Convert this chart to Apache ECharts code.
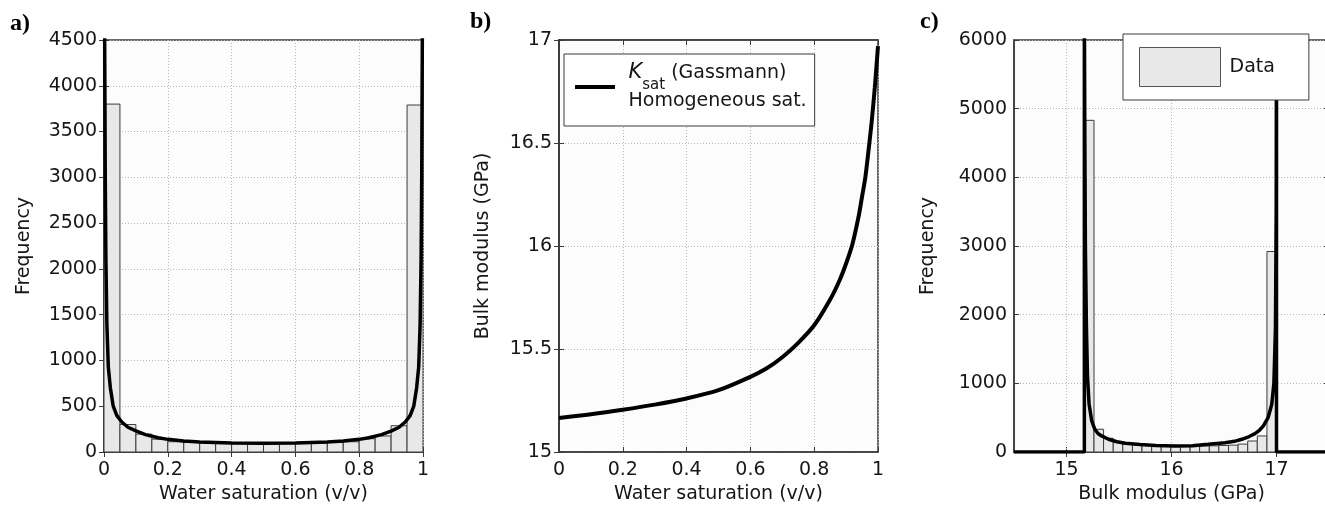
<!DOCTYPE html>
<html>
<head>
<meta charset="utf-8">
<script src="https://cdn.jsdelivr.net/npm/echarts@6/dist/echarts.min.js"></script>
<style>
html,body{margin:0;padding:0;background:#fff;}
#chart{width:1325px;height:506px;}
</style>
</head>
<body>
<div id="chart"></div>
<script>
// ---------- DATA ----------
// a) histogram of water saturation
const satEdges = [0, 0.05, 0.1, 0.15, 0.2, 0.25, 0.3, 0.35, 0.4, 0.45, 0.5, 0.55, 0.6, 0.65, 0.7, 0.75, 0.8, 0.85, 0.9, 0.95, 1.0];
const satCounts = [3800, 300, 195, 140, 112, 105, 100, 97, 95, 93, 93, 95, 97, 100, 105, 112, 145, 175, 287, 3790];
// a) fitted density curve (read from figure)
const satFitX = [0.002, 0.004, 0.006, 0.009, 0.0135, 0.02, 0.029, 0.04, 0.055, 0.075, 0.1, 0.13, 0.17, 0.2, 0.25, 0.3, 0.4, 0.5, 0.6, 0.7, 0.75, 0.8, 0.83, 0.87, 0.9, 0.925, 0.945, 0.96, 0.971, 0.98, 0.9865, 0.991, 0.994, 0.996, 0.998];
const satFitY = [4600, 3000, 2100, 1400, 930, 700, 500, 400, 330, 270, 230, 190, 155, 138, 120, 108, 98, 95, 98, 108, 120, 138, 155, 190, 228, 270, 330, 400, 500, 700, 930, 1400, 2100, 3000, 4600];
// b) Gassmann bulk modulus vs water saturation
const gassSw = [0, 0.1, 0.2, 0.3, 0.4, 0.5, 0.6, 0.65, 0.7, 0.75, 0.8, 0.85, 0.88, 0.9, 0.92, 0.94, 0.95, 0.96, 0.97, 0.98, 0.99, 1.0];
const gassK  = [15.165, 15.183, 15.205, 15.23, 15.26, 15.30, 15.365, 15.405, 15.46, 15.53, 15.615, 15.74, 15.835, 15.915, 16.01, 16.15, 16.24, 16.33, 16.46, 16.6, 16.77, 16.97];
// c) histogram of bulk modulus
const kEdges = [15.170, 15.262, 15.353, 15.445, 15.536, 15.628, 15.719, 15.811, 15.902, 15.994, 16.085, 16.177, 16.268, 16.360, 16.451, 16.543, 16.634, 16.726, 16.817, 16.909, 17.000];
const kCounts = [4830, 331, 200, 150, 120, 105, 98, 92, 88, 86, 85, 86, 88, 90, 95, 100, 115, 160, 234, 2920];
// c) fitted density curve (read from figure)
const kFitX = [14.5, 15.17, 15.17, 15.175, 15.18, 15.19, 15.2, 15.215, 15.24, 15.27, 15.3, 15.335, 15.4, 15.48, 15.56, 15.7, 15.85, 16.03, 16.2, 16.35, 16.51, 16.6, 16.67, 16.74, 16.795, 16.84, 16.875, 16.92, 16.955, 16.975, 16.99, 16.997, 17.0, 17.0, 17.5];
const kFitY = [0, 0, 6500, 4500, 3000, 1800, 1100, 700, 453, 331, 270, 234, 185, 150, 127, 110, 95, 88, 92, 112, 136, 155, 185, 225, 268, 320, 380, 500, 696, 1000, 1800, 3500, 6500, 0, 0];
// tick labels for c) x axis
const kTicks = [15, 16, 17];
// text
const panelLabels = ['a)', 'b)', 'c)'];

// ---------- CHART ----------
const FONT = 'DejaVu Sans';
const TXT = '#161616';
const FRAME = '#3a3a3a';

function hist(edges, counts) {
  return counts.map((c, i) => [edges[i], edges[i + 1], c]);
}
function pairs(xs, ys) { return xs.map((x, i) => [x, ys[i]]); }

const gridCommon = {show: true, backgroundColor: '#fcfcfc', borderColor: FRAME, borderWidth: 1.5,
  containLabel: false, outerBoundsMode: 'none'};
const grids = [
  Object.assign({left: 104, top: 40, width: 319, height: 412}, gridCommon),
  Object.assign({left: 559, top: 40, width: 319, height: 412}, gridCommon),
  Object.assign({left: 1014, top: 40, width: 315, height: 412}, gridCommon)
];

const tickStyle = {show: true, inside: true, length: 5, lineStyle: {color: FRAME, width: 1}};
const lineStyleAx = {show: true, lineStyle: {color: FRAME, width: 1.5}};
const splitStyle = {show: true, lineStyle: {color: '#b8b8b8', width: 1, type: [1, 2]}};
const labelStyle = {fontFamily: FONT, fontSize: 19, color: TXT};

function mainAxis(gi, pos, min, max, interval, name, nameGap, extra) {
  const isX = pos === 'bottom';
  return Object.assign({
    type: 'value', gridIndex: gi, position: pos, min: min, max: max, interval: interval,
    name: name, nameLocation: 'middle', nameGap: nameGap,
    nameTextStyle: {fontFamily: FONT, fontSize: 19, color: TXT},
    axisLine: lineStyleAx, axisTick: tickStyle, splitLine: splitStyle,
    axisLabel: Object.assign({margin: isX ? 9 : 7, formatter: v => String(+v.toFixed(4))}, labelStyle)
  }, extra || {});
}
function mirrorAxis(gi, pos, min, max, interval, extra) {
  return Object.assign({
    type: 'value', gridIndex: gi, position: pos, min: min, max: max, interval: interval,
    axisLine: lineStyleAx, axisTick: tickStyle, splitLine: {show: false},
    axisLabel: {show: false}
  }, extra || {});
}

const xAxes = [
  mainAxis(0, 'bottom', 0, 1, 0.2, 'Water saturation (v/v)', 33),
  mirrorAxis(0, 'top', 0, 1, 0.2),
  mainAxis(1, 'bottom', 0, 1, 0.2, 'Water saturation (v/v)', 33),
  mirrorAxis(1, 'top', 0, 1, 0.2),
  mainAxis(2, 'bottom', 14.5, 17.5, 0.5, 'Bulk modulus (GPa)', 33, {
    splitLine: {show: false},
    axisTick: Object.assign({customValues: kTicks}, tickStyle),
    axisLabel: Object.assign({margin: 9, customValues: kTicks,
      formatter: v => (Math.abs(v - Math.round(v)) < 1e-6 ? String(Math.round(v)) : '')}, labelStyle)
  }),
  mirrorAxis(2, 'top', 14.5, 17.5, 0.5, {axisTick: Object.assign({customValues: kTicks}, tickStyle)})
];
const yAxes = [
  mainAxis(0, 'left', 0, 4500, 500, 'Frequency', 70),
  mirrorAxis(0, 'right', 0, 4500, 500),
  mainAxis(1, 'left', 15, 17, 0.5, 'Bulk modulus (GPa)', 66),
  mirrorAxis(1, 'right', 15, 17, 0.5),
  mainAxis(2, 'left', 0, 6000, 1000, 'Frequency', 76),
  mirrorAxis(2, 'right', 0, 6000, 1000)
];

function barRender(params, api) {
  const x0 = api.value(0), x1 = api.value(1), y = api.value(2);
  const p0 = api.coord([x0, y]);
  const p1 = api.coord([x1, 0]);
  return {
    type: 'rect',
    shape: {x: p0[0], y: p0[1], width: p1[0] - p0[0], height: p1[1] - p0[1]},
    style: {fill: '#e8e8e8', stroke: '#3c3c3c', lineWidth: 1}
  };
}

const curveStyle = {color: '#000', width: 3.5};

const option = {
  animation: false,
  backgroundColor: '#ffffff',
  title: [
    {text: panelLabels[0], left: 10, top: 12, padding: 0},
    {text: panelLabels[1], left: 470, top: 10, padding: 0},
    {text: panelLabels[2], left: 920, top: 10, padding: 0}
  ].map(t => Object.assign(t, {textStyle: {fontFamily: 'Liberation Serif', fontWeight: 'bold', fontSize: 24, color: '#000'}})),
  grid: grids,
  xAxis: xAxes,
  yAxis: yAxes,
  legend: [
    {
      left: 564, top: 54, orient: 'vertical',
      data: [{name: 'Ksat', icon: 'path://M0,0 L10,0 L10,1 L0,1 Z'}],
      padding: [5, 8, 11, 11],
      itemWidth: 57, itemHeight: 4,
      backgroundColor: '#ffffff', borderColor: FRAME, borderWidth: 1, borderRadius: 0,
      selectedMode: false,
      formatter: () => '{k|K}{s|sat} (Gassmann)\nHomogeneous sat.',
      textStyle: {
        fontFamily: FONT, fontSize: 19, color: TXT, lineHeight: 28,
        rich: {
          k: {fontFamily: FONT, fontSize: 21, fontStyle: 'italic', color: TXT, lineHeight: 28},
          s: {fontFamily: FONT, fontSize: 15, color: TXT, verticalAlign: 'bottom', padding: [0, 0, -6, 0]}
        }
      }
    },
    {
      left: 1123, top: 34,
      data: [{name: 'Data', icon: 'rect', itemStyle: {color: '#e8e8e8', borderColor: '#555', borderWidth: 1}}],
      padding: [13, 34, 13, 16],
      itemWidth: 81, itemHeight: 39,
      backgroundColor: '#ffffff', borderColor: FRAME, borderWidth: 1, borderRadius: 0,
      selectedMode: false,
      textStyle: {fontFamily: FONT, fontSize: 19, color: TXT, padding: [0, 0, 0, 4]}
    }
  ],
  series: [
    {
      name: 'Sw histogram', type: 'custom', xAxisIndex: 0, yAxisIndex: 0,
      renderItem: barRender, encode: {x: [0, 1], y: 2}, clip: true, z: 2,
      data: hist(satEdges, satCounts)
    },
    {
      name: 'Sw fit', type: 'line', xAxisIndex: 0, yAxisIndex: 0,
      data: pairs(satFitX, satFitY), showSymbol: false, symbol: 'none',
      lineStyle: curveStyle, clip: true, z: 3, smooth: false
    },
    {
      name: 'Ksat', type: 'line', xAxisIndex: 2, yAxisIndex: 2,
      data: pairs(gassSw, gassK), showSymbol: false, symbol: 'none',
      itemStyle: {color: '#000'},
      lineStyle: {color: '#000', width: 4}, clip: true, z: 3, smooth: 0.3
    },
    {
      name: 'Data', type: 'custom', xAxisIndex: 4, yAxisIndex: 4,
      renderItem: barRender, encode: {x: [0, 1], y: 2}, clip: true, z: 2,
      itemStyle: {color: '#e8e8e8'},
      data: hist(kEdges, kCounts),
      markLine: {
        silent: true, symbol: 'none', z: 1, animation: false,
        label: {show: false},
        lineStyle: {color: '#b8b8b8', width: 1, type: [1, 2]},
        data: kTicks.map(v => ({xAxis: v}))
      }
    },
    {
      name: 'K fit', type: 'line', xAxisIndex: 4, yAxisIndex: 4,
      data: pairs(kFitX, kFitY), showSymbol: false, symbol: 'none',
      lineStyle: curveStyle, clip: true, z: 3, smooth: false
    }
  ]
};

const chart = echarts.init(document.getElementById('chart'), null, {renderer: 'canvas'});
chart.setOption(option);
</script>
</body>
</html>
